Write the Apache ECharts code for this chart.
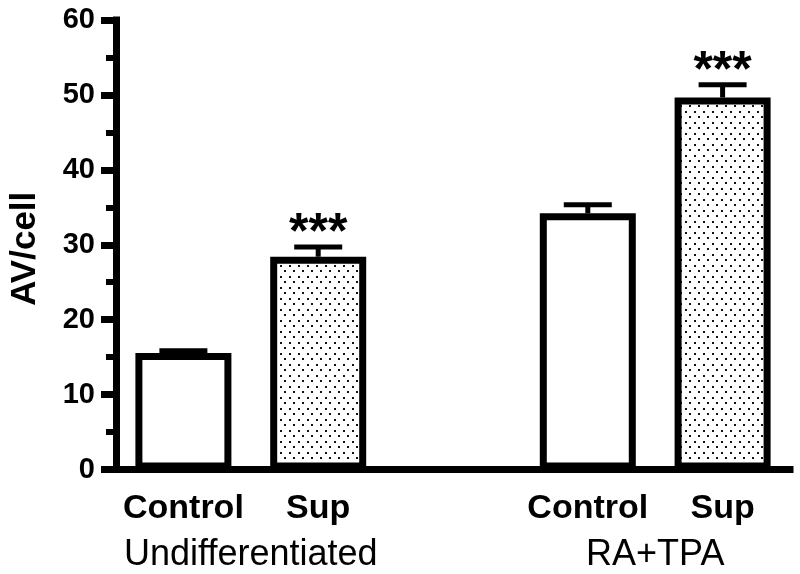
<!DOCTYPE html>
<html>
<head>
<meta charset="utf-8">
<script src="https://cdn.jsdelivr.net/npm/echarts@6/dist/echarts.min.js"></script>
<style>html,body{margin:0;padding:0;background:#fff}#c{width:800px;height:574px}</style>
</head>
<body>
<div id="c"></div>
<script>
// ---- data ----
const categories = ['Control', 'Sup', '', 'Control', 'Sup'];
const values = [15.55, 28.4, null, 34.2, 49.65];
const errors = [0.3, 1.3, null, 1.15, 1.7];
const stars = ['', '***', '', '', '***'];
const isSup = [false, true, false, false, true];
const groupLabels = ['', '', 'Undifferentiated', '', '', '', '', '', 'RA+TPA', '', ''];
const yTicks = { min: 0, max: 60, interval: 10 };
const yName = 'AV/cell';

const FONT = '"Liberation Sans", Arial, Helvetica, sans-serif';

// dotted pattern
const tile = document.createElement('canvas');
tile.width = 9; tile.height = 11;
const tctx = tile.getContext('2d');
tctx.fillStyle = '#fff'; tctx.fillRect(0, 0, 9, 11);
tctx.fillStyle = '#111';
tctx.fillRect(1, 1, 2, 2);
tctx.fillRect(5, 6, 2, 2);
const dotPattern = { image: tile, repeat: 'repeat' };

const chart = echarts.init(document.getElementById('c'), null, { renderer: 'canvas' });

const barData = values.map((v, i) => v === null ? '-' : ({
  value: v,
  itemStyle: { color: isSup[i] ? dotPattern : '#ffffff' }
}));
const errData = values.map((v, i) => v === null ? null : [i, v, errors[i], i]).filter(d => d);

chart.setOption({
  animation: false,
  backgroundColor: '#ffffff',
  grid: { left: 112, right: 10, top: 20, bottom: 104.5 },
  xAxis: [
    {
      type: 'category',
      data: categories,
      position: 'bottom',
      axisLine: { lineStyle: { color: '#000', width: 7, cap: 'square' } },
      axisTick: { show: false },
      axisLabel: {
        interval: 0, margin: 22, color: '#000',
        fontFamily: FONT, fontWeight: 'bold', fontSize: 34
      }
    },
    {
      type: 'category',
      data: groupLabels,
      boundaryGap: false,
      position: 'bottom',
      offset: 0,
      axisLine: { show: false },
      axisTick: { show: false },
      splitLine: { show: false },
      axisLabel: {
        interval: 0, margin: 68, color: '#000',
        fontFamily: FONT, fontWeight: 'normal', fontSize: 36
      }
    }
  ],
  yAxis: {
    type: 'value',
    min: yTicks.min, max: yTicks.max, interval: yTicks.interval,
    name: yName,
    nameLocation: 'middle',
    nameRotate: 90,
    nameGap: 73,
    nameTextStyle: { color: '#000', fontFamily: FONT, fontWeight: 'bold', fontSize: 35, padding: [0, 8, 0, 0] },
    axisLine: { show: true, lineStyle: { color: '#000', width: 7, cap: 'square' } },
    axisTick: { show: true, length: 15, lineStyle: { color: '#000', width: 7 } },
    minorTick: { show: true, splitNumber: 2, length: 10, lineStyle: { color: '#000', width: 6 } },
    splitLine: { show: false },
    axisLabel: {
      margin: 21, color: '#000',
      fontFamily: FONT, fontWeight: 'bold', fontSize: 29
    }
  },
  series: [
    {
      type: 'bar',
      xAxisIndex: 0,
      data: barData,
      barWidth: 96,
      itemStyle: { borderColor: '#000', borderWidth: 7 },
      z: 2
    },
    {
      type: 'custom',
      xAxisIndex: 0,
      data: errData,
      z: 3,
      renderItem: function (params, api) {
        const idx = api.value(0);
        const v = api.value(1);
        const e = api.value(2);
        const base = api.coord([idx, v]);
        const top = api.coord([idx, v + e]);
        const children = [
          { type: 'line', shape: { x1: base[0], y1: base[1], x2: top[0], y2: top[1] },
            style: { stroke: '#000', lineWidth: 5 } },
          { type: 'line', shape: { x1: top[0] - 24, y1: top[1], x2: top[0] + 24, y2: top[1] },
            style: { stroke: '#000', lineWidth: 5 } }
        ];
        const s = stars[api.value(3)];
        if (s) {
          children.push({
            type: 'text',
            style: {
              text: s, x: top[0], y: top[1] - 13,
              align: 'center', verticalAlign: 'middle',
              fill: '#000', font: 'bold 50px ' + FONT
            }
          });
        }
        return { type: 'group', children: children };
      }
    }
  ]
});
</script>
</body>
</html>
